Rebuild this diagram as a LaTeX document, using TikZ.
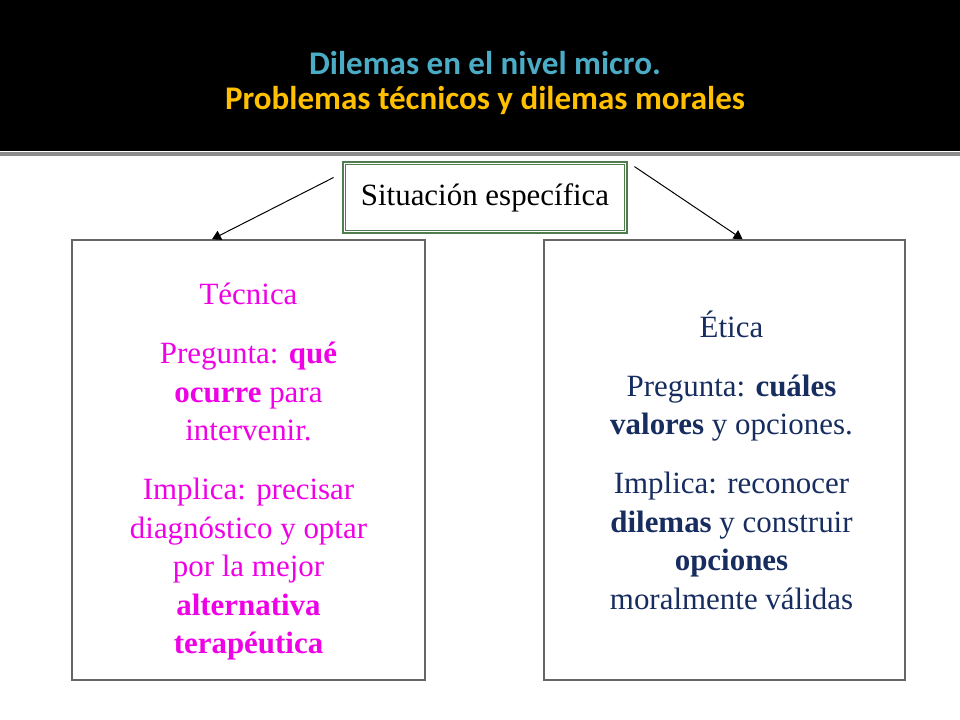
\documentclass[tikz,border=0pt]{standalone}
\usepackage{fontspec}
\setmainfont{Liberation Serif}
\newfontfamily\titlefont{Carlito}
\usepackage{tikz}
\usetikzlibrary{calc}
\usetikzlibrary{arrows}
\definecolor{titleblue}{RGB}{75,172,198}
\definecolor{titlegold}{RGB}{255,192,0}
\definecolor{boxgreen}{RGB}{80,125,78}
\definecolor{tecmagenta}{RGB}{240,0,230}
\definecolor{eticanavy}{RGB}{23,44,95}
\tikzset{%
  myedge/.style={->, shorten >=0pt, >=triangle 60, line width=0.7pt},
  mybox/.style={rectangle, draw=black!60, line width=0.9pt, minimum height=11cm},
  mytext/.style={align=center, font=\fontsize{22}{27.4}\selectfont},
  mytop/.style={rectangle, draw=boxgreen, line width=2pt, fill=white,
    minimum width=7.1cm, minimum height=1.775cm, font=\fontsize{22}{26}\selectfont}
}

\begin{document}
\begin{tikzpicture}[x=0.025cm, y=-0.025cm]

\useasboundingbox (0,0) rectangle (960,720);
\fill [white] (0,0) rectangle (960,720);

% header
\fill [black] (0,0) rectangle (960,151);
\fill [black!45] (0,152) rectangle (960,156);
\node [font=\titlefont\bfseries\fontsize{23.5}{25.5}\selectfont, align=center] (title) at (485,83)
  {\textcolor{titleblue}{Dilemas en el nivel micro.}\\ \textcolor{titlegold}{Problemas técnicos y dilemas morales}};

% top box
\node [mytop] (sit) at (485,197.5) {Situación específica};
\draw [boxgreen, line width=0.6pt] ([shift={(4,4)}]sit.north west) rectangle ([shift={(-4,-4)}]sit.south east);

% two boxes
\node [mybox, minimum width=8.825cm] (tec) at (248.5,460) {};
\node [mybox, minimum width=9.025cm] (eti) at (724.5,460) {};

\node [mytext, text=tecmagenta] (tectxt) at ([shift={(0,12)}]tec.center)
  {Técnica\\[14.5pt]
   Pregunta: \textbf{qué}\\ \textbf{ocurre} para\\ intervenir.\\[14.5pt]
   Implica: precisar\\ diagnóstico y optar\\ por la mejor\\ \textbf{alternativa}\\ \textbf{terapéutica}};
\node [mytext, text=eticanavy] (etitxt) at ([shift={(7,0)}]eti.center)
  {Ética\\[14.5pt]
   Pregunta: \textbf{cuáles}\\ \textbf{valores} y opciones.\\[14.5pt]
   Implica: reconocer\\ \textbf{dilemas} y construir\\ \textbf{opciones}\\ moralmente válidas};

% arrows
\coordinate (ls) at ([shift={(-8,-20)}]sit.west);
\coordinate (rs) at ([shift={(6,6)}]sit.north east);
\draw [myedge] (ls) -- ($(tec.north west)!0.397!(tec.north east)$);
\draw [myedge] (rs) -- ($(eti.north west)!0.55!(eti.north east)$);

\end{tikzpicture}
\end{document}
